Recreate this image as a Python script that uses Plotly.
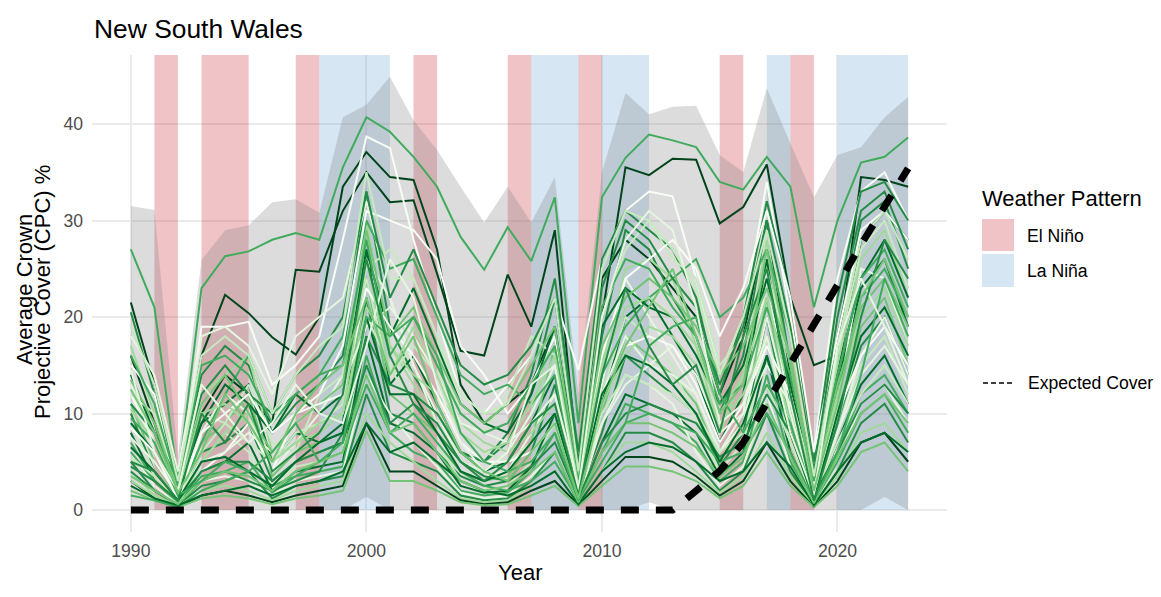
import plotly.graph_objects as go

years = list(range(1990, 2024))

el_nino_years = [1991, 1993, 1994, 1997, 2002, 2006, 2009, 2015, 2018]
la_nina_years = [1998, 1999, 2000, 2007, 2008, 2010, 2011, 2017, 2020, 2021, 2022]

ribbon_upper = [31.5, 31.1, 5.5, 25.9, 29.0, 29.5, 31.9, 32.2, 30.8, 40.7,
                42.0, 44.9, 40.4, 37.3, 33.5, 29.8, 33.5, 29.8, 34.5, 12.0,
                35.0, 43.2, 41.0, 41.8, 41.9, 36.8, 35.0, 43.7, 38.0, 32.4,
                36.8, 37.6, 40.7, 42.8]
ribbon_lower = [0, 0, 0, 0, 0, 0, 0, 0, 0, 0,
                1.35, 0, 0, 0, 0, 0, 0, 0, 0, 0,
                0, 0, 0.8, 0, 0, 0, 0, 0, 0, 0,
                0, 0, 1.35, 0]

expected_cover = [0, 0, 0, 0, 0, 0, 0, 0, 0, 0,
                  0, 0, 0, 0, 0, 0, 0, 0, 0, 0,
                  0, 0, 0, 0, 2.0, 4.05, 7.0, 11.0, 15.1, 19.3,
                  23.3, 27.5, 31.4, 35.4]

site_01 = [27, 21, 3, 23, 26.3, 26.8, 28, 28.7, 28, 35.5, 40.7, 39.2, 36.6, 33.5, 28.3, 24.9, 29.3, 25.8, 32.4, 9, 32.4, 36.5, 38.9, 38.3, 37.6, 34, 33.2, 36.6, 33.5, 21, 30, 36, 36.6, 38.6]
site_02 = [21.5, 13, 2, 16, 22.3, 20.4, 17.9, 16.1, 20, 33.5, 37.1, 34.5, 34.2, 27, 13, 9, 11, 13, 19, 3, 20, 35.5, 34.7, 36.4, 36.3, 29.7, 31.4, 35.8, 22, 15, 16, 34.5, 34.2, 33.5]
site_03 = [16, 9, 1.5, 10, 14, 12, 9, 24.9, 24.7, 31, 35, 31.9, 32.1, 24.5, 16.5, 16, 24.4, 19, 29, 4, 24, 28, 26, 23, 20, 12, 18, 30, 14, 4, 14, 28, 31, 28]
site_04 = [12, 7, 2, 19, 19, 19.5, 13, 15, 18, 28, 38.7, 37.5, 28, 20, 12, 10, 13, 16, 22, 14.5, 26, 31, 33, 32.5, 24, 14, 20, 34, 20, 6, 24, 33, 35, 30]
site_05 = [20.5, 12, 3, 14, 17, 15, 8, 11, 13, 16, 33, 19, 14, 10, 6, 5, 7, 12, 22, 4, 18, 29, 27, 22, 18, 10, 16, 30, 15, 3, 18, 30, 32, 25]
site_06 = [17, 10, 2, 12, 14, 16, 6, 9, 11, 12, 30, 17, 13, 9, 5, 4, 6, 10, 19, 3, 15, 25, 26, 24, 17, 8, 14, 28, 12, 2, 15, 26, 29, 22]
site_07 = [14, 8, 2, 9, 11, 13, 5, 8, 7, 9, 27, 13, 16, 11, 6, 4, 5, 9, 14, 2.5, 11, 20, 22, 18, 14, 7, 12, 26, 10, 2, 13, 23, 26, 19]
site_08 = [13, 6, 1.5, 8, 12, 10, 4, 7, 10, 14, 26, 22, 15, 10, 5, 3.5, 4, 8, 12, 2, 13, 24, 20, 16, 12, 6, 10, 24, 10, 1.5, 11, 25, 24, 17]
site_09 = [11, 5, 1.2, 7, 9, 12, 3.5, 6, 7, 8, 24, 12, 10, 8, 4, 3, 3.5, 7, 17, 1.8, 10, 18, 16, 14, 11, 5, 9, 22, 9, 1.2, 10, 19, 22, 15]
site_10 = [10, 4, 1, 6, 7, 9, 3, 5, 6, 7, 22, 10, 9, 6, 3.5, 2.5, 3, 6, 13, 1.5, 8, 16, 14, 12, 10, 4.5, 8, 20, 8, 1, 9, 17, 20, 14]
site_11 = [9, 4, 1, 5, 8, 6, 2.5, 4.5, 5, 6, 20, 15, 10, 7, 3, 2, 2.5, 5, 9, 1.2, 12, 20, 18, 15, 9, 4, 7, 18, 7, 1, 8, 15, 18, 12]
site_12 = [8, 3, 0.8, 4, 5, 7, 2, 4, 4.5, 5, 18, 9, 8, 6, 2.5, 1.8, 2, 4.5, 10, 1, 7, 12, 11, 10, 8, 3.5, 6, 16, 6, 0.8, 7, 13, 16, 11]
site_13 = [7, 3, 0.8, 3.5, 4, 5, 1.8, 3.5, 4, 4.5, 16, 8, 6, 5, 2, 1.5, 1.8, 4, 8, 0.9, 6, 11, 10, 9, 7, 3, 5, 14, 5, 0.7, 6, 12, 14, 10]
site_14 = [6, 2.5, 0.6, 3, 3.5, 3, 1.5, 3, 3.5, 4, 14, 10, 7, 4.5, 1.8, 1.2, 1.5, 3.5, 6, 0.8, 9, 14, 13, 11, 6, 2.5, 4.5, 12, 4.5, 0.6, 5, 11, 13, 9]
site_15 = [5, 2, 0.5, 2.5, 3, 4, 1.2, 2.5, 3, 3.5, 12, 6, 5, 4, 1.5, 1, 1.2, 3, 6, 0.7, 4, 8, 8, 7, 5, 2, 4, 10, 4, 0.5, 4, 9, 11, 7]
site_16 = [4, 1.5, 0.4, 2, 2.5, 2, 1, 2, 2.5, 3, 10, 7, 5, 3, 1.2, 0.8, 1, 2.5, 4, 0.6, 4, 7, 7, 6, 4, 1.8, 3.5, 8, 3.5, 0.4, 3.5, 8, 9, 6]
site_17 = [3, 1.2, 0.3, 1.5, 2, 1.5, 0.8, 1.5, 2, 2.5, 9, 4, 4, 2.5, 1, 0.6, 0.8, 2, 3, 0.5, 3, 5.5, 5.5, 5, 3.5, 1.5, 3, 7, 3, 0.3, 3, 7, 8, 5]
site_18 = [2, 1, 0.3, 1.2, 1.5, 1.2, 0.6, 1.2, 1.5, 2, 8.2, 3, 3, 2, 0.8, 0.5, 0.6, 1.5, 2.5, 0.4, 2.5, 4.5, 4.5, 4, 3, 1.2, 2.5, 6, 2.5, 0.3, 2.5, 6, 7, 4]
site_19 = [18, 14, 4, 18, 19, 17, 12, 18, 20, 22, 32, 22, 15, 9, 5, 4, 6, 10, 15, 2, 12, 18, 15, 14, 12, 6, 9, 20, 10, 1.5, 8, 16, 20, 14]
site_20 = [4, 2, 0.5, 3, 4, 3, 2, 3, 4, 8, 18, 13, 12, 10, 6, 5, 8, 14, 24, 6, 26, 31, 29, 27, 22, 12, 20, 32, 22, 5, 22, 33, 34, 30]
site_21 = [12, 10, 2.5, 10, 9, 13, 7, 6, 12, 14, 25, 27, 24, 18, 10, 8, 12, 18, 16, 3, 20, 27, 30, 26, 24, 15, 18, 25, 15, 3, 16, 27, 30, 23]
site_22 = [6, 3, 1, 7, 12, 16, 10, 12, 14, 18, 30, 25, 26, 20, 14, 12, 13, 11, 14, 2, 14, 19, 22, 24, 26, 20, 22, 27, 18, 4, 12, 22, 25, 20]
site_23 = [15, 12, 1.5, 4, 6, 9, 4, 10, 12, 17, 31, 30, 29, 26, 17, 14, 10, 13, 18, 3.5, 16, 24, 26, 28, 25, 18, 23, 31, 22, 6, 18, 29, 31, 28]
site_24 = [9, 6, 2, 9, 13, 11, 8, 12, 10, 12, 27, 18, 23, 17, 11, 9, 8, 12, 19, 4, 19, 23, 21, 20, 16, 11, 15, 24, 13, 2, 14, 24, 28, 22]
site_25 = [3, 1.5, 0.5, 5, 8, 10, 5, 7, 8, 10, 21, 17, 14, 12, 9, 7, 6, 8, 11, 1.5, 11, 16, 19, 18, 15, 9, 12, 18, 9, 1, 9, 18, 21, 16]
site_26 = [7.5, 5, 1.5, 5, 6, 8, 6, 9, 11, 13, 19, 21, 18, 14, 9, 8, 7, 9, 12, 2.5, 9, 13, 15, 17, 14, 8, 10, 15, 11, 2, 8, 14, 17, 13]
site_27 = [1.5, 1, 0.3, 2, 3, 4, 2.5, 3.5, 5, 6, 13, 8, 10, 7, 4, 2.5, 2, 3, 5, 1, 6, 9, 10, 9, 8, 5, 6, 10, 6, 0.8, 5, 10, 12, 8]
site_28 = [11, 8, 3, 12, 15, 12, 10, 14, 16, 20, 33, 22, 27, 21, 15, 13, 14, 17, 22, 5, 23, 30, 28, 24, 21, 13, 19, 30, 19, 4, 20, 31, 33, 27]
site_29 = [5.5, 3.5, 1, 6, 9, 7, 5, 8, 9, 11, 24, 14, 17, 14, 8, 6, 5, 7, 10, 1.8, 10, 14, 13, 12, 10, 6, 8, 13, 7, 1.2, 7, 12, 15, 11]
site_30 = [13.5, 9, 2, 11, 14, 10, 6, 9, 11, 13, 29, 18, 21, 16, 11, 9, 11, 15, 19, 3, 17, 22, 24, 22, 19, 14, 17, 23, 16, 2.5, 13, 21, 24, 19]
site_31 = [2.5, 1.2, 0.5, 1.5, 2, 2.5, 1.5, 2.5, 3, 4, 9, 6, 7, 5, 3, 2, 1.5, 2.5, 4, 0.6, 4, 6, 7, 6.5, 5, 3, 4, 7, 4.5, 0.5, 4, 7, 8, 6]
site_32 = [8.5, 6, 1, 8, 10, 12, 8, 10, 11, 12, 23, 19, 16, 12, 7, 5, 5, 6, 9, 2, 11, 17, 18, 17, 13, 7, 11, 17, 12, 2.5, 10, 16, 19, 15]
site_33 = [16, 11, 2.5, 15, 16, 14, 9, 12, 14, 15, 28, 16, 20, 15, 10, 8, 9, 13, 17, 3, 21, 26, 25, 21, 18, 11, 13, 21, 14, 3, 14, 24, 27, 21]
site_34 = [4.5, 3, 1, 4, 5, 5, 3, 5, 6, 7, 15, 9, 11, 8, 5, 3.5, 3, 4.5, 7, 1.2, 7, 10, 11, 10, 9, 5.5, 7, 12, 8, 1.5, 6, 11, 13, 10]
site_35 = [10.5, 7, 2, 10, 11, 9, 5, 7, 9, 10, 26, 14, 19, 14, 8, 6, 7, 11, 16, 2.5, 15, 21, 22, 20, 17, 10, 14, 22, 12, 2, 12, 20, 23, 17]
site_36 = [19, 13, 3, 16, 18, 16, 10, 14, 17, 19, 35, 24, 24, 18, 12, 10, 11, 16, 22, 4, 25, 31, 30, 27, 23, 14, 20, 29, 18, 3.5, 17, 28, 31, 26]
site_37 = [6.5, 4, 1, 5, 5.5, 4, 2.5, 5, 7, 8, 20, 12, 12, 8, 4, 3, 4, 7, 10, 1.5, 12, 16, 15, 13, 10, 5, 9, 16, 8, 1, 10, 18, 21, 16]
site_38 = [3.5, 2, 0.6, 3, 4, 3.5, 2, 4, 5, 6, 14, 8, 9, 6, 3, 2, 2.5, 4, 6, 0.8, 6, 9, 9, 8, 6.5, 3.5, 5.5, 11, 5.5, 0.7, 5.5, 10, 12, 9]
site_39 = [9.5, 7, 1.5, 3, 5, 4, 6, 9, 5, 7, 20, 18, 20, 16, 8, 5, 4, 5, 8, 1, 5, 9, 17, 19, 20, 12, 8, 13, 9, 1, 6, 14, 24, 18]
site_40 = [14.5, 6, 2, 13, 10, 7, 9, 13, 10, 9, 17, 26, 22, 13, 7, 4, 6, 13, 15, 2, 20, 28, 31, 29, 21, 9, 11, 18, 8, 1.5, 17, 24, 19, 13]
site_41 = [5, 4, 1, 10, 7, 11, 4, 6, 8, 12, 26, 16, 11, 9, 5, 3, 5, 9, 11, 1.5, 14, 23, 17, 13, 15, 8, 18, 25, 12, 1, 9, 20, 28, 24]
site_42 = [12.5, 8, 1.8, 6, 12, 9, 5, 10, 13, 15, 22, 14, 18, 11, 6, 4, 3, 6, 9, 1.2, 11, 17, 21, 25, 18, 10, 13, 27, 15, 2, 11, 22, 26, 20]

greens = ["#F7FCF5", "#E5F5E0", "#C7E9C0", "#A1D99B", "#74C476",
          "#41AB5D", "#238B45", "#006D2C", "#00441B"]
site_shade = [5, 8, 8, 0, 6, 3, 7, 1, 4, 6,
              2, 7, 5, 1, 6, 3, 8, 4, 1, 6,
              2, 5, 0, 7, 3, 1, 5, 6, 2, 4,
              7, 0, 5, 6, 3, 2, 7, 4, 5, 1,
              6, 4]

sites = [site_01, site_02, site_03, site_04, site_05, site_06, site_07, site_08,
         site_09, site_10, site_11, site_12, site_13, site_14, site_15, site_16,
         site_17, site_18, site_19, site_20, site_21, site_22, site_23, site_24,
         site_25, site_26, site_27, site_28, site_29, site_30, site_31, site_32,
         site_33, site_34, site_35, site_36, site_37, site_38, site_39, site_40,
         site_41, site_42]

for i, s in enumerate(sites):
    if len(s) != len(years):
        raise ValueError(f"site {i+1} has {len(s)} values")

EL_COL = "rgba(200,40,55,0.28)"
LA_COL = "rgba(70,140,200,0.22)"
RIB_COL = "rgba(128,128,128,0.28)"

# panel geometry (pixels)
W, H = 1161, 597
PL, PR, PT, PB = 92, 947, 55, 532
X_RANGE = [1988.35, 2024.65]
Y_RANGE = [-2.28, 47.15]


def px(xp):
    return (xp - PL) / (PR - PL)


def py(yp):
    return (PB - yp) / (PB - PT)


fig = go.Figure()

# ribbon
fig.add_trace(go.Scatter(x=years, y=ribbon_lower, mode="lines",
                         line=dict(width=0, color="rgba(0,0,0,0)"),
                         showlegend=False, hoverinfo="skip"))
fig.add_trace(go.Scatter(x=years, y=ribbon_upper, mode="lines", fill="tonexty",
                         fillcolor=RIB_COL, line=dict(width=0, color="rgba(0,0,0,0)"),
                         showlegend=False, hoverinfo="skip"))

for s, shade in zip(sites, site_shade):
    fig.add_trace(go.Scatter(x=years, y=s, mode="lines",
                             line=dict(color=greens[shade], width=2.0),
                             showlegend=False))

fig.add_trace(go.Scatter(x=years, y=expected_cover, mode="lines",
                         line=dict(color="black", width=7, dash="18px,17px"),
                         showlegend=False))

shapes = []
for yr in el_nino_years:
    shapes.append(dict(type="rect", xref="x", yref="y", x0=yr, x1=yr + 1,
                       y0=0, y1=Y_RANGE[1], fillcolor=EL_COL, line=dict(width=0),
                       layer="between"))
for yr in la_nina_years:
    shapes.append(dict(type="rect", xref="x", yref="y", x0=yr, x1=yr + 1,
                       y0=0, y1=Y_RANGE[1], fillcolor=LA_COL, line=dict(width=0),
                       layer="between"))

# legend keys
shapes.append(dict(type="rect", xref="paper", yref="paper", x0=px(982), x1=px(1014),
                   y0=py(251), y1=py(219), fillcolor=EL_COL, line=dict(width=0)))
shapes.append(dict(type="rect", xref="paper", yref="paper", x0=px(982), x1=px(1014),
                   y0=py(287), y1=py(254), fillcolor=LA_COL, line=dict(width=0)))
shapes.append(dict(type="line", xref="paper", yref="paper", x0=px(983), x1=px(1013),
                   y0=py(383), y1=py(383), line=dict(color="black", width=1.6, dash="5px,3px")))

FONT = "Liberation Sans, Arial, sans-serif"
annotations = [
    dict(text="New South Wales", xref="paper", yref="paper", x=px(92), y=py(29),
         xanchor="left", yanchor="middle", showarrow=False,
         font=dict(family=FONT, size=26.4, color="black")),
    dict(text="Year", xref="paper", yref="paper", x=px(520), y=py(572),
         xanchor="center", yanchor="middle", showarrow=False,
         font=dict(family=FONT, size=22, color="black")),
    dict(text="Average Crown", xref="paper", yref="paper", x=px(24), y=py(290),
         xanchor="center", yanchor="middle", showarrow=False, textangle=-90,
         font=dict(family=FONT, size=22, color="black")),
    dict(text="Projective Cover (CPC) %", xref="paper", yref="paper", x=px(42), y=py(292),
         xanchor="center", yanchor="middle", showarrow=False, textangle=-90,
         font=dict(family=FONT, size=22, color="black")),
    dict(text="Weather Pattern", xref="paper", yref="paper", x=px(980), y=py(198),
         xanchor="left", yanchor="middle", showarrow=False,
         font=dict(family=FONT, size=22, color="black")),
    dict(text="El Niño", xref="paper", yref="paper", x=px(1025), y=py(236),
         xanchor="left", yanchor="middle", showarrow=False,
         font=dict(family=FONT, size=17.6, color="black")),
    dict(text="La Niña", xref="paper", yref="paper", x=px(1025), y=py(271),
         xanchor="left", yanchor="middle", showarrow=False,
         font=dict(family=FONT, size=17.6, color="black")),
    dict(text="Expected Cover", xref="paper", yref="paper", x=px(1026), y=py(383),
         xanchor="left", yanchor="middle", showarrow=False,
         font=dict(family=FONT, size=17.6, color="black")),
]

fig.update_layout(
    width=W, height=H, autosize=False,
    margin=dict(l=PL, r=W - PR, t=PT, b=H - PB, pad=0),
    paper_bgcolor="white", plot_bgcolor="white",
    showlegend=False,
    shapes=shapes, annotations=annotations,
    font=dict(family=FONT),
    xaxis=dict(range=X_RANGE, tickvals=[1990, 2000, 2010, 2020],
               showgrid=True, gridcolor="#EBEBEB", gridwidth=1.6,
               zeroline=False, showline=False, ticks="",
               tickfont=dict(family=FONT, size=17.6, color="#4D4D4D"),
               ticklabelstandoff=6),
    yaxis=dict(range=Y_RANGE, tickvals=[0, 10, 20, 30, 40],
               showgrid=True, gridcolor="#EBEBEB", gridwidth=1.6,
               zeroline=False, showline=False, ticks="",
               tickfont=dict(family=FONT, size=17.6, color="#4D4D4D"),
               ticklabelstandoff=8),
)

fig.write_html("out.html",
               config={"displayModeBar": False},
               post_script="document.body.style.margin='0';document.body.style.padding='0';")
